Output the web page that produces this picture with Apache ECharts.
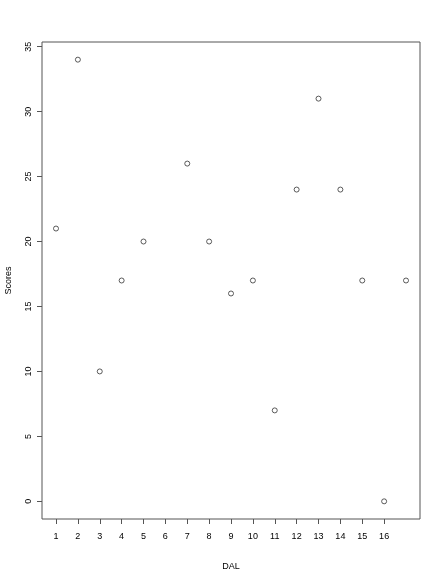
<!DOCTYPE html>
<html>
<head>
<meta charset="utf-8">
<script src="https://cdn.jsdelivr.net/npm/echarts@6/dist/echarts.min.js"></script>
<style>html,body{margin:0;padding:0;background:#fff;}#c{width:443px;height:573px;}</style>
</head>
<body>
<div id="c"></div>
<script>
var dalValues = [1, 2, 3, 4, 5, 7, 8, 9, 10, 11, 12, 13, 14, 15, 16, 17];
var scores = [21, 34, 10, 17, 20, 26, 20, 16, 17, 7, 24, 31, 24, 17, 0, 17];
var xTicks = [1, 2, 3, 4, 5, 6, 7, 8, 9, 10, 11, 12, 13, 14, 15, 16];
var yTicks = [0, 5, 10, 15, 20, 25, 30, 35];

var points = dalValues.map(function (x, i) { return [x, scores[i]]; });
var font = 'Liberation Sans, Arial, Helvetica, sans-serif';
var chart = echarts.init(document.getElementById('c'), null, {renderer: 'canvas'});
chart.setOption({
  animation: false,
  backgroundColor: '#fff',
  grid: {left: 42, right: 23, top: 42, bottom: 54, containLabel: false, outerBoundsMode: 'none', show: true, borderColor: '#555', borderWidth: 1, backgroundColor: 'transparent'},
  xAxis: {
    type: 'value', min: 0.36, max: 17.64,
    name: 'DAL', nameLocation: 'middle', nameGap: 43,
    nameTextStyle: {fontFamily: font, fontSize: 9, color: '#000'},
    axisLine: {show: false, onZero: false},
    splitLine: {show: false},
    axisTick: {show: true, inside: false, length: 5, lineStyle: {color: '#555', width: 1}, customValues: xTicks},
    axisLabel: {fontFamily: font, fontSize: 9, color: '#000', margin: 13, customValues: xTicks}
  },
  yAxis: {
    type: 'value', min: -1.36, max: 35.36,
    name: 'Scores', nameLocation: 'middle', nameGap: 29,
    nameTextStyle: {fontFamily: font, fontSize: 9, color: '#000'},
    axisLine: {show: false, onZero: false},
    splitLine: {show: false},
    axisTick: {show: true, inside: false, length: 5, lineStyle: {color: '#555', width: 1}, customValues: yTicks},
    axisLabel: {fontFamily: font, fontSize: 9, color: '#000', margin: 9, rotate: 90, customValues: yTicks}
  },
  series: [{
    type: 'scatter',
    data: points,
    symbol: 'circle',
    symbolSize: 5,
    itemStyle: {color: 'transparent', borderColor: '#333', borderWidth: 1}
  }]
});
</script>
</body>
</html>
